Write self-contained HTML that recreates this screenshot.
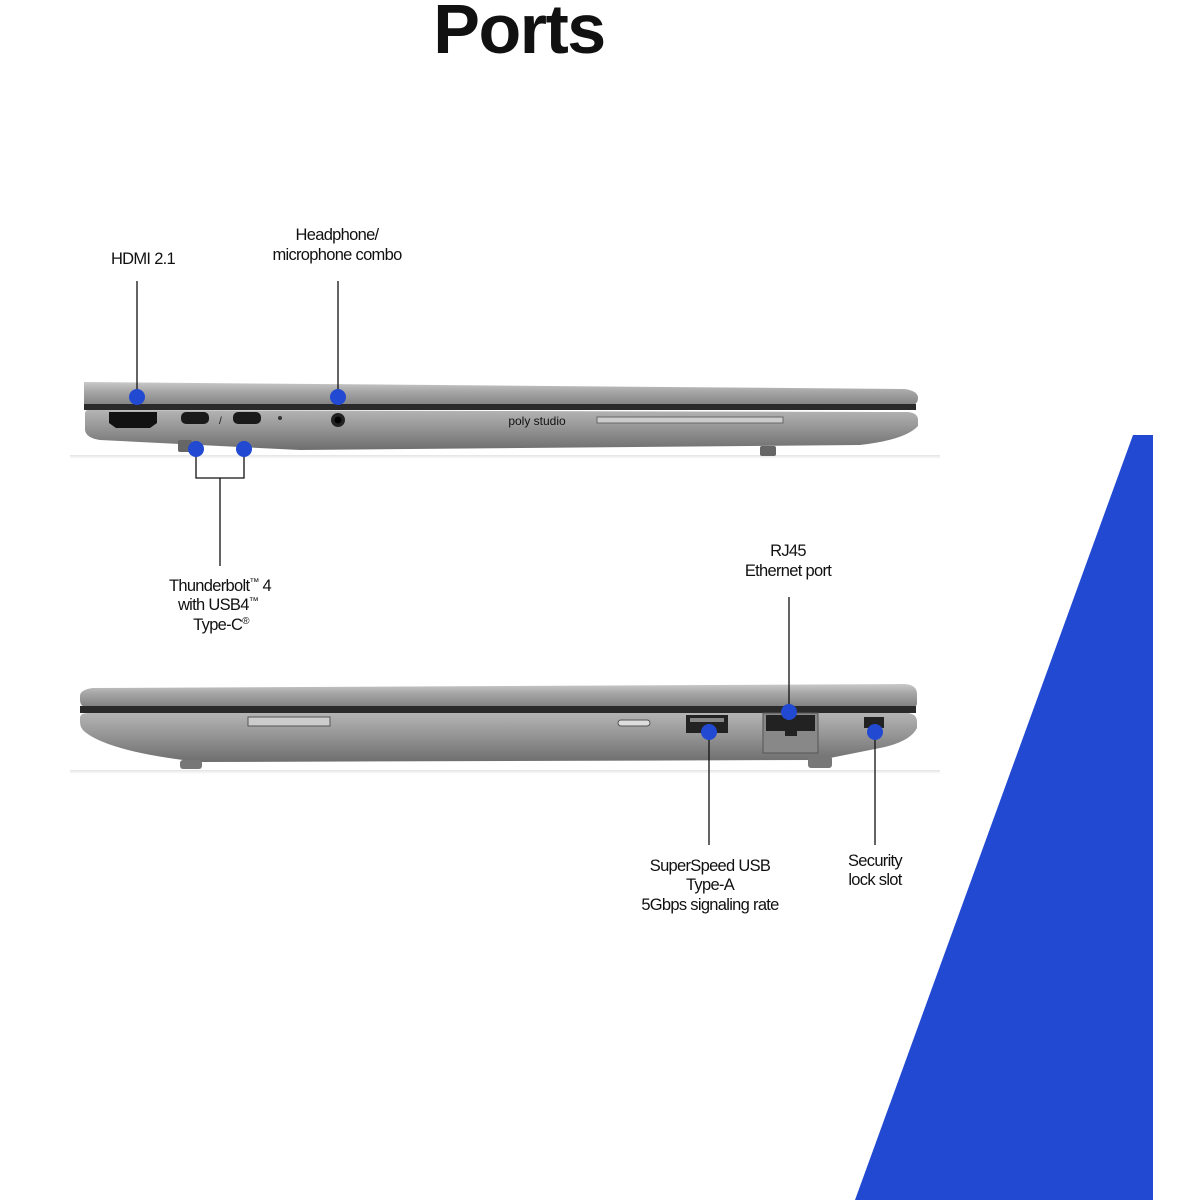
<!DOCTYPE html>
<html><head><meta charset="utf-8"><style>
html,body{margin:0;padding:0;background:#fff;}
svg{display:block;}
text{font-family:"Liberation Sans",sans-serif;fill:#111;}
.l{font-size:16.5px;letter-spacing:-0.7px;text-anchor:middle;}
.s{font-size:10px;}
</style></head><body>
<svg width="1200" height="1200" viewBox="0 0 1200 1200" xmlns="http://www.w3.org/2000/svg">
<defs>
<linearGradient id="lid" x1="0" y1="0" x2="0" y2="1">
<stop offset="0" stop-color="#c9c9c9"/><stop offset="0.35" stop-color="#a9a9a9"/><stop offset="1" stop-color="#7d7d7d"/>
</linearGradient>
<linearGradient id="base" x1="0" y1="0" x2="0" y2="1">
<stop offset="0" stop-color="#b4b4b4"/><stop offset="0.4" stop-color="#999"/><stop offset="1" stop-color="#6e6e6e"/>
</linearGradient>
<linearGradient id="sh" x1="0" y1="0" x2="0" y2="1">
<stop offset="0" stop-color="#ddd"/><stop offset="1" stop-color="#fff"/>
</linearGradient>
</defs>

<text x="519" y="53" font-size="70" font-weight="bold" text-anchor="middle" letter-spacing="-1.5">Ports</text>

<polygon points="1133,435 1153,435 1153,1200 855,1200" fill="#2149d1"/>

<!-- Laptop 1 -->
<rect x="70" y="455" width="870" height="4" fill="url(#sh)" opacity="0.8"/>
<path d="M84,382 L905,389 Q918,391 918,398 Q918,406 906,407 L84,405 Z" fill="url(#lid)"/>
<rect x="84" y="404" width="832" height="6" fill="#2a2a2a"/>
<path d="M88,410 L908,412 Q918,413 918,420 L918,426 Q905,440 860,445 L300,450 L100,440 Q86,438 85,430 L85,414 Q85,410 88,410 Z" fill="url(#base)"/>
<rect x="178" y="440" width="14" height="12" rx="2" fill="#666"/>
<rect x="760" y="446" width="16" height="10" rx="2" fill="#666"/>
<path d="M109,412 L157,412 L157,423 L150,428 L116,428 L109,423 Z" fill="#111"/>
<rect x="181" y="412" width="28" height="12" rx="5" fill="#1a1a1a"/>
<rect x="233" y="412" width="28" height="12" rx="5" fill="#1a1a1a"/>
<text x="219" y="424" font-size="10" fill="#444">/</text>
<circle cx="280" cy="418" r="2" fill="#333"/>
<circle cx="338" cy="420" r="7" fill="#222"/>
<circle cx="338" cy="420" r="3.5" fill="#000"/>
<text x="537" y="425" font-size="12" fill="#333" text-anchor="middle">poly studio</text>
<rect x="597" y="417" width="186" height="6" fill="#ccc" stroke="#666" stroke-width="1"/>
<line x1="137" y1="281" x2="137" y2="397" stroke="#111" stroke-width="1.3"/>
<line x1="338" y1="281" x2="338" y2="397" stroke="#111" stroke-width="1.3"/>
<circle cx="137" cy="397" r="8" fill="#2149d1"/>
<circle cx="338" cy="397" r="8" fill="#2149d1"/>
<polyline points="196,449 196,478 244,478 244,449" fill="none" stroke="#111" stroke-width="1.3"/>
<line x1="220" y1="478" x2="220" y2="566" stroke="#111" stroke-width="1.3"/>
<circle cx="196" cy="449" r="8" fill="#2149d1"/>
<circle cx="244" cy="449" r="8" fill="#2149d1"/>

<text class="l" x="143" y="264">HDMI 2.1</text>
<text class="l" x="337" y="240">Headphone/</text>
<text class="l" x="337" y="260">microphone combo</text>
<text class="l" x="220" y="591">Thunderbolt<tspan class="s" dy="-6">™</tspan><tspan dy="6"> 4</tspan></text>
<text class="l" x="218" y="610">with USB4<tspan class="s" dy="-6">™</tspan></text>
<text class="l" x="221" y="630">Type-C<tspan class="s" dy="-6">®</tspan></text>

<!-- Laptop 2 -->
<rect x="70" y="770" width="870" height="4" fill="url(#sh)" opacity="0.8"/>
<path d="M92,688 L905,684 Q917,685 917,694 L917,704 Q916,708 910,708 L88,708 Q80,707 80,700 L80,696 Q80,690 92,688 Z" fill="url(#lid)"/>
<rect x="80" y="706" width="836" height="7" fill="#2a2a2a"/>
<path d="M88,713 L908,713 Q917,714 917,722 L917,728 Q910,742 880,748 L820,760 L200,762 Q110,752 85,732 Q80,728 80,722 L80,718 Q80,713 88,713 Z" fill="url(#base)"/>
<rect x="180" y="760" width="22" height="9" rx="3" fill="#777"/>
<rect x="808" y="756" width="24" height="12" rx="3" fill="#777"/>
<rect x="248" y="717" width="82" height="9" fill="#ccc" stroke="#555" stroke-width="1"/>
<rect x="618" y="720" width="32" height="6" rx="3" fill="#ddd" stroke="#555" stroke-width="1"/>
<rect x="686" y="715" width="42" height="18" fill="#222"/>
<rect x="690" y="718" width="34" height="4" fill="#888"/>
<rect x="763" y="713" width="55" height="40" fill="#888" stroke="#555" stroke-width="1"/>
<rect x="766" y="715" width="49" height="16" fill="#222"/>
<rect x="785" y="731" width="12" height="5" fill="#222"/>
<rect x="864" y="717" width="20" height="11" fill="#222"/>
<line x1="789" y1="597" x2="789" y2="712" stroke="#111" stroke-width="1.3"/>
<line x1="709" y1="732" x2="709" y2="845" stroke="#111" stroke-width="1.3"/>
<line x1="875" y1="732" x2="875" y2="845" stroke="#111" stroke-width="1.3"/>
<circle cx="789" cy="712" r="8" fill="#2149d1"/>
<circle cx="709" cy="732" r="8" fill="#2149d1"/>
<circle cx="875" cy="732" r="8" fill="#2149d1"/>

<text class="l" x="788" y="556">RJ45</text>
<text class="l" x="788" y="576">Ethernet port</text>
<text class="l" x="710" y="871">SuperSpeed USB</text>
<text class="l" x="710" y="890">Type-A</text>
<text class="l" x="710" y="910">5Gbps signaling rate</text>
<text class="l" x="875" y="866">Security</text>
<text class="l" x="875" y="885">lock slot</text>
</svg>
</body></html>
